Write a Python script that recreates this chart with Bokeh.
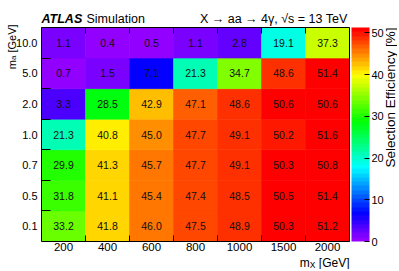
import math
import colorsys
from bokeh.plotting import figure
from bokeh.models import (ColumnDataSource, LinearColorMapper, ColorBar, FixedTicker,
                          LinearAxis, Label, Range1d)
from bokeh.transform import transform
from bokeh.core.properties import value
from bokeh.embed import file_html
from bokeh.resources import INLINE

# ---------------- data ----------------
mx_labels = ["200", "400", "600", "800", "1000", "1500", "2000"]
ma_labels = ["0.1", "0.5", "0.7", "1.0", "2.0", "5.0", "10.0"]
# selection efficiency [%], one list per m_a row (bottom -> top), columns follow mx_labels
eff_ma_0p1 = [33.2, 41.8, 46.0, 47.5, 48.9, 50.3, 51.2]
eff_ma_0p5 = [31.8, 41.1, 45.4, 47.4, 48.5, 50.5, 51.4]
eff_ma_0p7 = [29.9, 41.3, 45.7, 47.7, 49.1, 50.3, 50.8]
eff_ma_1p0 = [21.3, 40.8, 45.0, 47.7, 49.1, 50.2, 51.6]
eff_ma_2p0 = [3.3, 28.5, 42.9, 47.1, 48.6, 50.6, 50.6]
eff_ma_5p0 = [0.7, 1.5, 7.1, 21.3, 34.7, 48.6, 51.4]
eff_ma_10p0 = [1.1, 0.4, 0.5, 1.1, 2.8, 19.1, 37.3]
cbar_ticks = [0, 10, 20, 30, 40, 50]
z_min, z_max = 0.0, 51.3

rows = [eff_ma_0p1, eff_ma_0p5, eff_ma_0p7, eff_ma_1p0, eff_ma_2p0, eff_ma_5p0, eff_ma_10p0]

# ---------------- ROOT-like "pretty" palette (violet -> red) ----------------
palette = []
for i in range(49):
    h = 280 - (i + 1) * (280 / 50)
    r, g, b = colorsys.hls_to_rgb(h / 360.0, 0.5, 1.0)
    palette.append("#%02x%02x%02x" % (round(r * 255), round(g * 255), round(b * 255)))
palette.append("#ff0000")

mapper = LinearColorMapper(palette=palette, low=z_min, high=z_max)

nx, ny = len(mx_labels), len(ma_labels)
xs, ys, vals, txt = [], [], [], []
for j, row in enumerate(rows):
    for i, v in enumerate(row):
        xs.append(i + 0.5)
        ys.append(j + 0.5)
        vals.append(v)
        txt.append(f"{v:.1f}")
src = ColumnDataSource(dict(x=xs, y=ys, v=vals, t=txt))

# ---------------- layout (pixels) ----------------
FONT = "Liberation Sans"
W, H = 397, 269
X0, X1 = 41, 349      # heat-map left / right edge
Y0, Y1 = 27, 241      # heat-map top / bottom edge
ux = (X1 - X0) / nx
uy = (Y1 - Y0) / ny

p = figure(width=W, height=H,
           x_range=Range1d(-X0 / ux, nx + (W - X1) / ux),
           y_range=Range1d(-(H - Y1) / uy, ny + Y0 / uy),
           output_backend="svg", toolbar_location=None,
           x_axis_type=None, y_axis_type=None,
           min_border=0)
p.outline_line_color = None
p.background_fill_color = "white"
p.border_fill_color = "white"

p.rect(x="x", y="y", width=1, height=1, source=src,
       fill_color=transform("v", mapper), line_color=transform("v", mapper), line_width=0.6)
p.text(x="x", y="y", text="t", source=src, text_align="center", text_baseline="middle",
       text_font_size="10.5px", text_font=value(FONT), text_color="#111111")

xc = [i + 0.5 for i in range(nx)]
yc = [j + 0.5 for j in range(ny)]
xb = [float(i) for i in range(1, nx)]
yb = [float(j) for j in range(1, ny)]

def make_axis(ticks, minor, labels, tick_len, fixed, bounds, standoff=2, size="11.5px"):
    ax = LinearAxis(ticker=FixedTicker(ticks=ticks, minor_ticks=minor),
                    fixed_location=fixed, bounds=bounds)
    if labels:
        ax.major_label_overrides = {c: l for c, l in zip(ticks, labels)}
    ax.major_tick_in = 0
    ax.major_tick_out = 0
    ax.minor_tick_in = tick_len
    ax.minor_tick_out = 0
    ax.minor_tick_line_color = "black"
    ax.axis_line_color = "black"
    ax.axis_line_width = 1
    ax.major_label_text_font = FONT
    ax.major_label_text_font_size = size
    ax.major_label_text_color = "black"
    ax.major_label_standoff = standoff
    return ax

p.add_layout(make_axis(xc, xb, mx_labels, 6, 0, (0, nx), 1, "11.5px"), "below")
p.add_layout(make_axis(yc, yb, ma_labels, 9, 0, (0, ny), 4, "11px"), "left")
p.add_layout(make_axis([], xb, None, 6, ny, (0, nx)), "above")
p.add_layout(make_axis([], [], None, 0, nx, (0, ny)), "right")

cb = ColorBar(color_mapper=mapper, ticker=FixedTicker(ticks=cbar_ticks),
              width=18, height=Y1 - Y0, location=(X1 + 2, H - Y1),
              padding=0, margin=0, label_standoff=2,
              major_tick_in=5, major_tick_out=0, major_tick_line_color="black",
              minor_tick_line_color=None, bar_line_color=None, border_line_color=None,
              background_fill_color=None,
              major_label_text_font=FONT, major_label_text_font_size="11px",
              major_label_text_color="black")
p.add_layout(cb)

def lab(x, y, text, size, style="normal", align="left", angle=0.0):
    p.add_layout(Label(x=x, y=y, x_units="canvas", y_units="canvas", text=text,
                       text_font=FONT, text_font_size=size, text_font_style=style,
                       text_align=align, text_baseline="alphabetic", angle=angle,
                       text_color="black"))

UP = math.pi / 2   # reads bottom -> top

# header
lab(X0, 18.7, "ATLAS", "12.5px", style="bold italic")
lab(X0 + 45, 18.7, "Simulation", "12.5px")
lab(X1 - 2, 18.7, "X \u2192 aa \u2192 4\u03b3, \u221as = 13 TeV", "12.5px", align="right")

# x-axis title  m_X [GeV]  (pieces laid out left -> right, ending at the frame edge)
xs0 = X1 - 49.7
lab(xs0, 262.3, "m", "12px")
lab(xs0 + 10.0, 264.3, "X", "8.5px")
lab(xs0 + 19.0, 262.3, "[GeV]", "12px")

# y-axis title  m_a [GeV]  (rotated, ending near the frame top)
ys0 = 24 + 44.8
lab(11, ys0, "m", "11px", angle=UP)
lab(13.3, ys0 - 9.2, "a", "8px", angle=UP)
lab(11, ys0 - 9.2 - 7.5, "[GeV]", "11px", angle=UP)

# colour-bar title
lab(390, Y0, "Selection Efficiency [%]", "13.5px", align="right", angle=UP)

open("out.html", "w").write(file_html(p, INLINE))
